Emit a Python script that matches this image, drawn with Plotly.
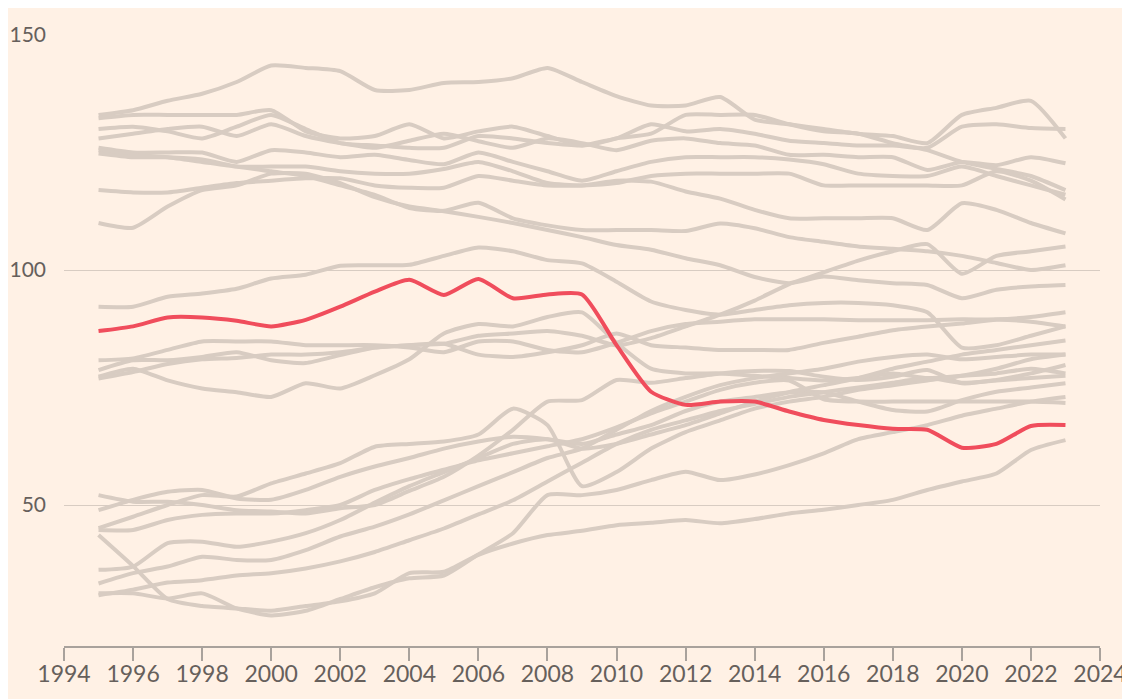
import plotly.graph_objects as go

years = list(range(1995, 2024))

highlight = [87.0, 88.0, 89.9, 89.9, 89.2, 88.0, 89.4, 92.2, 95.4, 97.9, 94.7, 98.1, 94.0, 94.8, 94.8,
             84.0, 74.1, 71.3, 72.0, 72.0, 69.9, 68.1, 67.0, 66.2, 66.0, 62.2, 63.0, 66.8, 67.0]

t1 = [133, 134, 136, 137.5, 140, 143.5, 143, 142.3, 138.3, 138.3, 139.8, 140, 140.8, 143, 140,
      137, 135, 135, 136.8, 132, 131, 130, 129, 128.5, 127, 133, 134.5, 136, 128]
t2 = [132.3, 133, 133, 133, 133, 134, 129.5, 128, 128.5, 131, 128, 129.5, 130.5, 128.5, 126.5,
      128, 131, 129.5, 130, 129, 127.5, 127, 126.5, 126.5, 126, 130.5, 131, 130.2, 130]
t3 = [130, 130.5, 129.5, 128, 130.5, 133, 130, 127, 126.5, 126, 126, 128.5, 128, 127, 126.5,
      128, 129, 133, 133, 133, 131, 129.5, 129, 127, 125.5, 123, 121.5, 120, 117]
t4 = [128, 129, 130, 130.5, 128.5, 131, 128.5, 127, 126, 127.5, 129, 127.4, 126, 128, 127,
      125.5, 127.5, 128, 127, 126.5, 124.5, 124.5, 124, 124, 121.3, 123, 122.3, 124, 122.7]
t5 = [126, 125, 125, 125, 123, 125.5, 125, 124, 124.5, 123.4, 122.5, 125, 123, 121, 119,
      121, 123, 124, 124, 124, 123.5, 122.5, 120.5, 120, 120, 122, 120, 118, 116]
t6 = [125.5, 124.5, 124, 123, 122, 122, 122, 121, 120.5, 120.5, 121.5, 123, 121, 118.5, 118,
      119, 118.8, 116.7, 115.2, 112.8, 111, 111, 111, 111, 108.5, 114.2, 112.8, 110, 107.8]
t7 = [117, 116.5, 116.5, 117.5, 118.5, 119, 119.5, 119.5, 118, 117.5, 117.5, 120, 119, 118, 118,
      118.5, 120, 120.5, 120.5, 120.5, 120.5, 118, 118, 118, 118, 118, 121, 119, 115]
t8 = [110, 109, 113.5, 117, 118, 120.5, 120.5, 118.5, 115.5, 113.5, 112.5, 111.3, 110, 108.5, 107,
      105.3, 104.3, 102.5, 101, 98.5, 97.2, 98.6, 97.8, 97.2, 96.8, 94, 95.8, 96.5, 96.8]
t9 = [124.8, 124, 124, 123.5, 122, 121, 120, 118, 116, 113.2, 112.6, 114.3, 111, 109.5, 108.5,
      108.5, 108.5, 108.3, 109.9, 108.9, 107, 106, 105, 104.5, 104, 103, 101.5, 100, 101]
t10 = [92.2, 92.2, 94.3, 95, 96, 98.2, 99, 100.9, 101, 101.1, 103, 104.8, 104, 102.1, 101.4,
       97.5, 93.3, 91.5, 90.5, 91.5, 92.5, 93, 93, 92.5, 91, 83.5, 84, 86, 88]
m1 = [80.8, 81.2, 83, 84.8, 84.8, 84.8, 84, 84, 84, 83.5, 82.5, 84.8, 84.8, 83, 82.5,
      84.5, 87, 88.5, 89, 89.5, 89.5, 89.5, 89.3, 89.3, 89.3, 89.5, 89.5, 90, 91]
m2 = [78.7, 80.8, 80.8, 81.5, 82.5, 80.8, 80.2, 81.9, 83.5, 84, 84.3, 82, 81.5, 82.5, 84,
      86.5, 84, 83.5, 83, 83, 83, 84.5, 85.8, 87.2, 88, 88.6, 89.4, 89, 88]
m3 = [77.3, 79, 76.5, 74.8, 74, 73, 75.9, 74.8, 77.6, 81, 86.5, 88.5, 88, 90, 91,
      84.5, 79, 78, 78, 77.5, 77, 76.5, 77, 78, 77, 77.5, 78, 79, 78]
m4 = [76.9, 78.3, 80, 81, 81.3, 82, 82, 82.5, 83.5, 84, 84.3, 86, 86.5, 87, 86,
      84, 85.5, 88, 90.5, 93.5, 97, 99.5, 102, 104, 105.5, 99.2, 103, 104, 105]
b1 = [52.1, 50.7, 50.7, 50, 48.9, 48.6, 48.2, 49.3, 50, 53, 56, 60.5, 66, 72, 72.3,
      76.6, 76, 77, 78, 78.5, 78.5, 77.3, 76.6, 77.3, 78.7, 75.9, 76.6, 78, 79.8]
b2 = [48.9, 51.1, 52.8, 53.2, 51.4, 51.1, 53.2, 56, 58.2, 60, 62, 63.5, 64.5, 64, 63,
      65, 67, 70, 72, 73, 74, 74, 72, 70.2, 69.9, 72.3, 74.1, 75, 75.9]
b3 = [45.1, 47.5, 50, 52.1, 51.8, 54.6, 56.7, 58.9, 62.4, 63, 63.5, 65, 70.5, 67, 54,
      57, 62, 65.5, 68, 70.5, 72, 73, 74.5, 75.5, 76.5, 77.5, 79, 81, 82]
b4 = [44.7, 44.7, 46.8, 47.9, 48.2, 48.2, 48.9, 50, 53.2, 55.5, 57.5, 59.5, 61, 62.5, 64,
      66.5, 69.5, 72, 74.5, 76, 76.5, 72.5, 72, 72, 72, 72, 72, 72, 71.7]
b5 = [43.6, 37, 30, 28.5, 28, 27.5, 28.5, 29.5, 31.2, 35.5, 35.8, 39.4, 41.8, 43.6, 44.5,
      45.7, 46.2, 46.8, 46.1, 47, 48.2, 49, 50, 51.1, 53.2, 55, 56.7, 61.7, 63.8]
b6 = [36.2, 36.9, 41.9, 42.2, 41.1, 42.2, 44, 46.8, 50.5, 54, 57, 60, 63, 64, 62,
      63, 65, 67, 69.5, 72, 74, 75.5, 77, 79, 80.5, 82, 83, 84, 85]
b7 = [33.3, 35.5, 36.9, 39, 38.3, 38.3, 40.4, 43.3, 45.4, 48, 51, 54, 57, 60, 62,
      66, 70, 73, 75.5, 77, 78, 79, 80.5, 81.5, 82, 81, 81.5, 82, 82]
b8 = [31.2, 31.2, 30.1, 31.2, 28, 26.5, 27.5, 30, 32.5, 34.4, 35, 39.5, 44, 52.1, 52.1,
      53.2, 55.3, 57.1, 55.3, 56.5, 58.5, 61, 64, 65.5, 67, 69, 70.5, 72, 73]
b9 = [30.8, 32, 33.5, 34, 35, 35.5, 36.5, 38, 40, 42.5, 45, 48, 51, 55, 59,
      63, 66, 68, 70, 71.5, 73, 74, 75, 76, 77, 76, 76.5, 77, 77.5]

grey_series = [t1, t2, t3, t4, t5, t6, t7, t8, t9, t10, m1, m2, m3, m4,
               b1, b2, b3, b4, b5, b6, b7, b8, b9]

x_ticks = list(range(1994, 2025, 2))
y_ticks = [50, 100, 150]

BG = "#fff1e5"
GREY = "#d8ccc2"
RED = "#f04d5c"
TEXT = "#66605c"
AXIS = "#a9a29c"
FONT = "Lato"

fig = go.Figure()
for s in grey_series:
    fig.add_trace(go.Scatter(x=years, y=s, mode="lines",
                             line=dict(color=GREY, width=4, shape="spline", smoothing=0.6),
                             hoverinfo="skip", showlegend=False))
fig.add_trace(go.Scatter(x=years, y=highlight, mode="lines",
                         line=dict(color=RED, width=4, shape="spline", smoothing=0.6),
                         hoverinfo="skip", showlegend=False))

fig.update_layout(
    width=1130, height=699,
    paper_bgcolor=BG, plot_bgcolor=BG,
    margin=dict(l=56, r=38, t=27, b=61, autoexpand=False),
    font=dict(family=FONT, size=22, color=TEXT),
    showlegend=False,
    xaxis=dict(range=[1994, 2024], tickvals=x_ticks, ticktext=[str(v) for v in x_ticks],
               automargin=False,
               showgrid=False, zeroline=False, showline=True, linecolor=AXIS, linewidth=1.5,
               ticks="outside", ticklen=13, tickwidth=1.5, tickcolor=AXIS,
               ticklabelstandoff=-6,
               tickfont=dict(family=FONT, size=23, color=TEXT)),
    yaxis=dict(range=[20, 150], tickvals=y_ticks, ticktext=[str(v) for v in y_ticks],
               automargin=False,
               showgrid=True, gridcolor=GREY, gridwidth=1.2, zeroline=False,
               showline=False, ticks="", ticklabelstandoff=17,
               tickfont=dict(family=FONT, size=21, color=TEXT)),
)

fig.write_html("out.html")
